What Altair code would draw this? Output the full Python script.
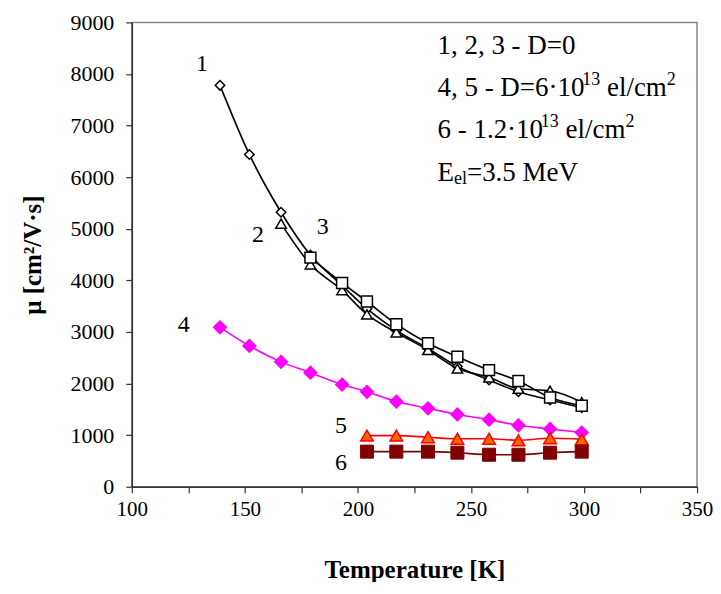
import altair as alt
import pandas as pd

# ---- data ----
T1 = [139, 152, 166, 179, 193, 204, 217, 231, 244, 258, 271, 285, 299]
MU1 = [7780, 6440, 5320, 4490, 3900, 3450, 3030, 2680, 2330, 2070, 1840, 1680, 1530]

T2 = [166, 179, 193, 204, 217, 231, 244, 258, 271, 285, 299]
MU2 = [5100, 4310, 3810, 3340, 2990, 2650, 2290, 2120, 1900, 1860, 1640]

T3 = [179, 193, 204, 217, 231, 244, 258, 271, 285, 299]
MU3 = [4440, 3950, 3590, 3150, 2780, 2520, 2260, 2050, 1730, 1570]

T4 = [139, 152, 166, 179, 193, 204, 217, 231, 244, 258, 271, 285, 299]
MU4 = [3090, 2730, 2420, 2210, 1980, 1840, 1650, 1520, 1400, 1300, 1190, 1120, 1050]

T5 = [204, 217, 231, 244, 258, 271, 285, 299]
MU5 = [990, 990, 960, 930, 930, 900, 940, 920]

T6 = [204, 217, 231, 244, 258, 271, 285, 299]
MU6 = [680, 680, 680, 660, 620, 620, 660, 680]

CURVE_LABELS = ["1", "2", "3", "4", "5", "6"]
CURVE_LABEL_T = [131, 155.8, 184.4, 123, 192.5, 192.5]
CURVE_LABEL_MU = [8190, 4870, 5040, 3130, 1170, 460]

# note lines, split into (text, kind) pieces: 0 normal, 1 superscript, -1 subscript
NOTE_LINES = [
    [("1, 2, 3 - D=0", 0)],
    [("4, 5 - D=6·10", 0), ("13", 1), (" el/cm", 0), ("2", 1)],
    [("6 - 1.2·10", 0), ("13", 1), (" el/cm", 0), ("2", 1)],
    [("E", 0), ("el", -1), ("=3.5 MeV", 0)],
]
NOTE_T = 235.2
NOTE_MU = [8540, 7720, 6905, 6090]

X_TICKS = list(range(100, 351, 25))
Y_TICKS = list(range(0, 9001, 500))

FONT = "Liberation Serif"
MAIN_FS = 27
SUB_FS = 18

# Times / Liberation Serif advance widths (per 1000 em) for laying out text pieces
ADV = {'0': 500, '1': 500, '2': 500, '3': 500, '4': 500, '5': 500, '6': 500, ',': 250,
       ' ': 250, '-': 333, 'D': 722, '=': 564, '·': 250, '.': 250, 'e': 444, 'l': 278,
       '/': 278, 'c': 444, 'm': 778, 'E': 611, 'M': 889, 'V': 722}


def text_width(s, fs):
    return sum(ADV.get(ch, 500) for ch in s) * fs / 1000.0


def frame(t, mu):
    return pd.DataFrame({"T": t, "mu": mu})


x_enc = alt.X("T:Q", scale=alt.Scale(domain=[100, 350], nice=False, zero=False),
              axis=alt.Axis(values=X_TICKS,
                            labelExpr="datum.value % 50 == 0 ? datum.label : ''",
                            title="Temperature [K]", titleFontSize=25, titleFontWeight="bold",
                            titlePadding=38, labelPadding=6, labelFontSize=21,
                            labelOverlap=False, labelFlush=False))
y_enc = alt.Y("mu:Q", scale=alt.Scale(domain=[0, 9000], nice=False),
              axis=alt.Axis(values=Y_TICKS, format="d",
                            labelExpr="datum.value % 1000 == 0 ? datum.label : ''",
                            title="μ [cm²/V·s]", titleFontSize=25, titleFontWeight="bold",
                            titlePadding=24, labelPadding=12, labelFontSize=22,
                            labelOverlap=False, labelFlush=False))


def series(t, mu, color, shape, size, fill, stroke, stroke_w=1.5):
    d = frame(t, mu)
    line = alt.Chart(d).mark_line(color=color, strokeWidth=1.6, interpolate="monotone").encode(
        x=x_enc, y=y_enc)
    pts = alt.Chart(d).mark_point(shape=shape, size=size, filled=True, fill=fill,
                                  stroke=stroke, strokeWidth=stroke_w, opacity=1).encode(
        x=x_enc, y=y_enc)
    return line + pts


s1 = series(T1, MU1, "black", "diamond", 90, "white", "black")
s2 = series(T2, MU2, "black", "triangle-up", 110, "white", "black")
s3 = series(T3, MU3, "black", "square", 120, "white", "black")
s4 = series(T4, MU4, "#ff00ff", "diamond", 160, "#ff00ff", "#ff00ff")
s5 = series(T5, MU5, "#ff0000", "triangle-up", 160, "#ff6600", "#ff0000")
s6 = series(T6, MU6, "#800000", "square", 170, "#800000", "#800000", 1)

lab = alt.Chart(pd.DataFrame({"T": CURVE_LABEL_T, "mu": CURVE_LABEL_MU, "txt": CURVE_LABELS})).mark_text(
    font=FONT, fontSize=24, color="black", align="center", baseline="middle").encode(
    x="T:Q", y="mu:Q", text="txt:N")

note_layers = []
for pieces, mu in zip(NOTE_LINES, NOTE_MU):
    off = 0.0
    df = pd.DataFrame({"T": [NOTE_T], "mu": [mu]})
    for txt, kind in pieces:
        fs = MAIN_FS if kind == 0 else SUB_FS
        dy = 0 if kind == 0 else (-8 if kind == 1 else 6)
        shown = txt.lstrip(" ")
        off += text_width(txt[: len(txt) - len(shown)], fs)  # SVG drops leading spaces
        note_layers.append(
            alt.Chart(df).mark_text(font=FONT, fontSize=fs, color="black", align="left",
                                    baseline="middle", text=shown, dx=round(off, 1), dy=dy)
            .encode(x="T:Q", y="mu:Q"))
        off += text_width(shown, fs)

chart = alt.layer(s1, s2, s3, s4, s5, s6, lab, *note_layers).properties(
    width=566, height=465,
    autosize=alt.AutoSizeParams(type="none"),
    padding={"left": 124, "top": 14, "right": 16, "bottom": 95},
    background="white",
).configure_view(
    stroke="#888888", strokeWidth=1.5
).configure_axis(
    grid=False, domainColor="#333333", domainWidth=1.5, tickColor="#333333",
    tickSize=6, tickWidth=1.2, labelFont=FONT, titleFont=FONT,
    labelColor="black", titleColor="black",
)

chart.save("out.html", embed_options={"renderer": "svg", "actions": False})
